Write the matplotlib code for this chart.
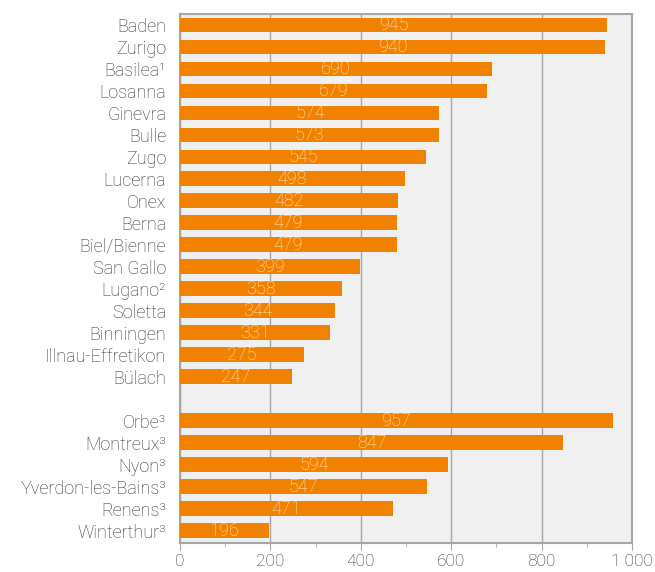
import numpy as np
import matplotlib.pyplot as plt

plt.rcParams['font.family'] = ['Roboto', 'DejaVu Sans']

cities_a = ['Baden', 'Zurigo', 'Basilea¹', 'Losanna', 'Ginevra', 'Bulle', 'Zugo',
            'Lucerna', 'Onex', 'Berna', 'Biel/Bienne', 'San Gallo', 'Lugano²',
            'Soletta', 'Binningen', 'Illnau-Effretikon', 'Bülach']
values_a = [945, 940, 690, 679, 574, 573, 545, 498, 482, 479, 479, 399, 358,
            344, 331, 275, 247]
cities_b = ['Orbe³', 'Montreux³', 'Nyon³', 'Yverdon-les-Bains³', 'Renens³', 'Winterthur³']
values_b = [957, 847, 594, 547, 471, 196]

labels = cities_a + [''] + cities_b
pos_a = np.arange(len(cities_a))
pos_b = np.arange(len(cities_b)) + len(cities_a) + 1

orange = '#F08200'
text_c = '#333333'
grid_c = '#A6A6A6'
fs = 13

fig = plt.figure(figsize=(6.55, 5.72), dpi=100)
ax = fig.add_axes([0.2748, 0.0507, 0.6901, 0.9248])
ax.set_facecolor('#F0F0F0')

for pos, vals in [(pos_a, values_a), (pos_b, values_b)]:
    bars = ax.barh(pos, vals, height=0.68, color=orange, zorder=3)
    for b, v in zip(bars, vals):
        ax.text(v / 2, b.get_y() + b.get_height() / 2, str(v), ha='center', va='center',
                color='#FDE6CC', fontsize=fs, fontweight='light', zorder=4)

ax.set_yticks(list(pos_a) + [len(cities_a)] + list(pos_b))
ax.set_yticklabels(labels, fontsize=fs, color=text_c, fontweight='light')
ax.set_ylim(len(labels) - 0.45, -0.5)
ax.set_xlim(0, 1000)
ax.set_xticks([0, 200, 400, 600, 800, 1000])
ax.set_xticklabels(['0', '200', '400', '600', '800', '1 000'], fontsize=12.5,
                   color=text_c, fontweight='light')
ax.set_xticks([100, 300, 500, 700, 900], minor=True)
ax.tick_params(axis='y', length=0, pad=10)
ax.tick_params(axis='x', which='major', length=5, color=grid_c, pad=3)
ax.tick_params(axis='x', which='minor', length=3, color=grid_c)
ax.grid(axis='x', which='major', color=grid_c, linewidth=1, zorder=1)
for s in ax.spines.values():
    s.set_color(grid_c)
    s.set_linewidth(1.5)

fig.savefig('out.png', dpi=100)
